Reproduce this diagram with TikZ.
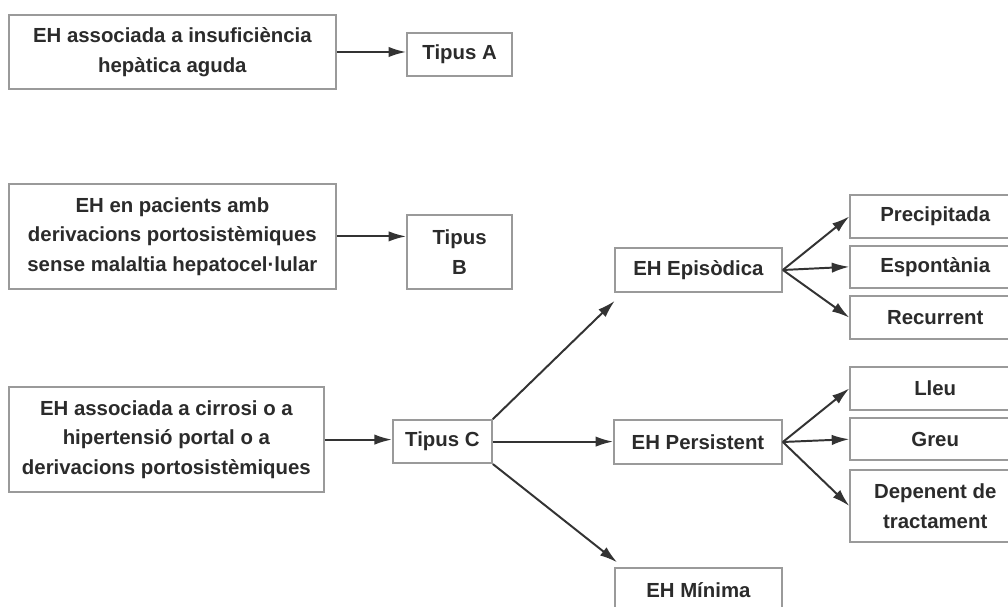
\documentclass[tikz,border=0pt]{standalone}
\usepackage{fontspec}
\setmainfont{Liberation Sans}
\usepackage{tikz}
\usetikzlibrary{arrows.meta,positioning}
\definecolor{ehtext}{HTML}{2B2B2B}
\definecolor{ehframe}{HTML}{9A9A9A}
\definecolor{ehline}{HTML}{333333}

\begin{document}
\begin{tikzpicture}[
    box/.style={rectangle, draw=ehframe, line width=1.2pt, fill=white, text=ehtext, font=\fontsize{14.5}{21}\selectfont\bfseries, align=center, inner sep=2pt},
    arr/.style={draw=ehline, line width=1.4pt, -{Latex[length=4.4mm, width=2.6mm]}},
]
    \path[use as bounding box, clip] (0,0) rectangle (25.2,15.15);
    \fill[white] (0,0) rectangle (25.2,15.15);
    % tipus
    \node[box, minimum width=8.18cm, minimum height=1.85cm] (a1) at (4.31,13.85) {EH associada a insuficiència\\hepàtica aguda};
    \node[box, minimum width=2.63cm, minimum height=1.08cm] (ta) at (11.49,13.79) {Tipus A};
    \node[box, minimum width=8.18cm, minimum height=2.63cm] (b1) at (4.31,9.24) {EH en pacients amb\\derivacions portosistèmiques\\sense malaltia hepatocel·lular};
    \node[box, minimum width=2.63cm, minimum height=1.85cm] (tb) at (11.49,8.85) {Tipus\\B};
    \node[box, minimum width=7.88cm, minimum height=2.63cm] (c1) at (4.16,4.16) {EH associada a cirrosi o a\\hipertensió portal o a\\derivacions portosistèmiques};
    \node[box, minimum width=2.48cm, minimum height=1.08cm] (tc) at (11.06,4.11) {Tipus C};
    % subtipus C
    \node[box, minimum width=4.18cm, minimum height=1.1cm] (ep) at (17.46,8.40) {EH Episòdica};
    \node[box, minimum width=4.2cm, minimum height=1.1cm] (pe) at (17.45,4.10) {EH Persistent};
    \node[box, minimum width=4.18cm, minimum height=1.1cm] (mi) at (17.46,0.40) {EH Mínima};
    \node[box, minimum width=4.25cm, minimum height=1.08cm] (pr) at (23.38,9.74) {Precipitada};
    \node[box, minimum width=4.25cm, minimum height=1.05cm] (es) at (23.38,8.48) {Espontània};
    \node[box, minimum width=4.25cm, minimum height=1.08cm] (re) at (23.38,7.21) {Recurrent};
    \node[box, minimum width=4.25cm, minimum height=1.08cm] (ll) at (23.38,5.44) {Lleu};
    \node[box, minimum width=4.25cm, minimum height=1.05cm] (gr) at (23.38,4.17) {Greu};
    \node[box, minimum width=4.25cm, minimum height=1.8cm] (de) at (23.38,2.50) {Depenent de\\tractament};
    % fletxes
    \draw[arr] (a1.east) -- (a1.east -| ta.west);
    \draw[arr] (b1.east) -- (b1.east -| tb.west);
    \draw[arr] (c1.east) -- (c1.east -| tc.west);
    \draw[arr] (tc.north east) -- ([shift={(0.02,-0.2)}]ep.south west);
    \draw[arr] (tc.east) -- (tc.east -| pe.west);
    \draw[arr] (tc.south east) -- ([shift={(0.08,0.12)}]mi.north west);
    \foreach \k in {pr,es,re} \draw[arr] (ep.east) -- (\k.west);
    \foreach \k in {ll,gr,de} \draw[arr] (pe.east) -- (\k.west);
\end{tikzpicture}
\end{document}
